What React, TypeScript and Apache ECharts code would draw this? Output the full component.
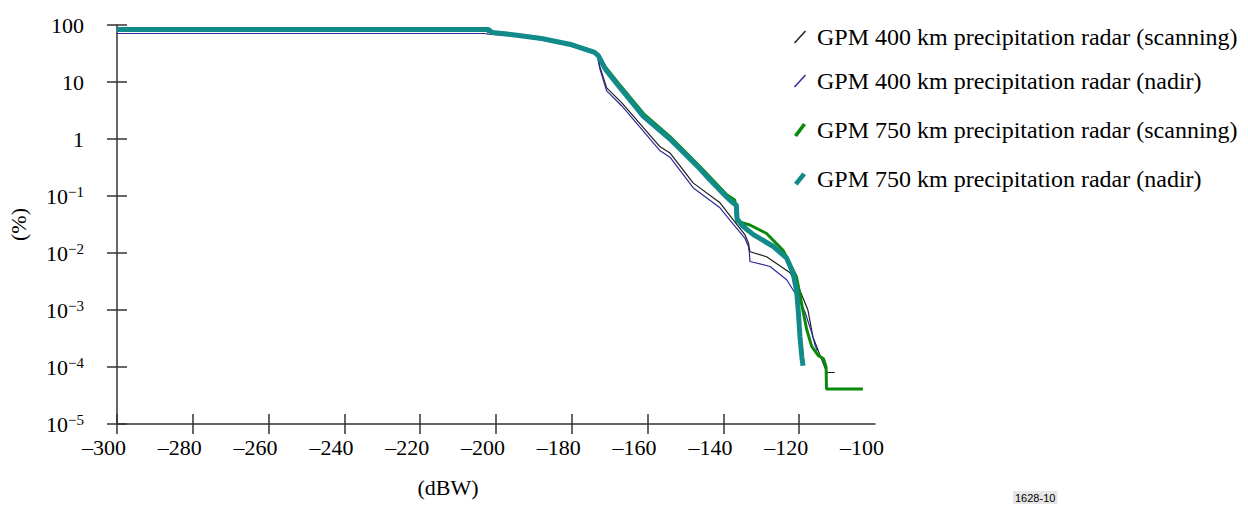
import React, { useEffect, useRef } from "react";
import * as echarts from "echarts";

const xTicks = [-300, -280, -260, -240, -220, -200, -180, -160, -140, -120, -100];

const seriesNames = [
  "GPM 400 km precipitation radar (scanning)",
  "GPM 400 km precipitation radar (nadir)",
  "GPM 750 km precipitation radar (scanning)",
  "GPM 750 km precipitation radar (nadir)",
];

const gpm400Scanning: [number, number][] = [
  [-300, 80], [-203, 80], [-202, 74], [-195, 66], [-188, 57], [-180, 45], [-174, 33], [-173, 28],
  [-172.6, 18.6], [-170.8, 7.9], [-166.8, 4.3], [-156.7, 0.73], [-154.1, 0.57], [-148, 0.17],
  [-140.9, 0.076], [-139.1, 0.053], [-134.3, 0.0207], [-133.4, 0.015], [-133.0, 0.0105],
  [-128.6, 0.0086], [-122.4, 0.0045], [-119.8, 0.0022], [-117.7, 0.001], [-116.4, 0.00034],
  [-114.5, 0.00016], [-112.7, 0.00008], [-110.6, 0.00008],
];

const gpm400Nadir: [number, number][] = [
  [-300, 71], [-203, 71], [-202, 69], [-195, 64], [-188, 55], [-180, 44], [-174, 32], [-173.2, 27],
  [-172.6, 17], [-170.8, 7.0], [-166.8, 3.8], [-156.7, 0.62], [-154.1, 0.48], [-148, 0.14],
  [-140.9, 0.062], [-139.1, 0.044], [-134.3, 0.018], [-133.4, 0.013], [-133.1, 0.0095],
  [-133.0, 0.0071], [-127.7, 0.0058], [-123.3, 0.0034], [-120.7, 0.0018], [-118.5, 0.00093],
  [-116.7, 0.0004], [-115.8, 0.00024], [-115.2, 0.00019],
];

const gpm750Scanning: [number, number][] = [
  [-300, 83], [-202, 83], [-201, 75], [-195, 67], [-188, 58], [-180, 46], [-174, 34], [-173, 30],
  [-171.2, 18.6], [-167.7, 9.5], [-161.1, 2.8], [-154.1, 1.1], [-146.2, 0.33], [-139.1, 0.105],
  [-137, 0.085], [-136.6, 0.045], [-136.5, 0.036], [-133.0, 0.031], [-128.6, 0.022],
  [-124.2, 0.011], [-120.7, 0.0038], [-118.9, 0.00089], [-118.0, 0.00045], [-116.7, 0.00023],
  [-115.0, 0.00016], [-113.6, 0.00014], [-112.9, 0.0001], [-112.8, 0.000041], [-103.2, 0.000041],
];

const gpm750Nadir: [number, number][] = [
  [-300, 83], [-202, 83], [-201, 74], [-195, 67], [-188, 58], [-180, 45], [-174, 33], [-173, 29],
  [-171.2, 17], [-167.7, 8.6], [-161.1, 2.5], [-154.1, 1.0], [-146.2, 0.3], [-143.5, 0.19],
  [-139.1, 0.095], [-137.4, 0.075], [-136.6, 0.07], [-136.4, 0.04], [-135, 0.03], [-132.1, 0.021],
  [-126.8, 0.013], [-123.3, 0.0081], [-121.6, 0.0044], [-120.7, 0.0022], [-120.2, 0.00089],
  [-119.8, 0.00034], [-119.3, 0.00015], [-119, 0.000105],
];

const colors = ["#1e1e1e", "#2b2b9c", "#0a8a0a", "#138a8a"];
const widths = [1.2, 1.2, 3, 5];
const legendIcons = [
  "path://M0,11 L10,0 L11,1 L1,12 Z",
  "path://M0,11 L10,0 L11,1 L1,12 Z",
  "path://M0,12 L9,0 L12,2 L3,14 Z",
  "path://M0,11 L9,0 L13,3 L4,14 Z",
];
const legendTops = [24, 68, 117, 166];

const FONT = "Liberation Serif";

function fmtX(v: number) {
  return v < 0 ? "\u2013" + String(-v) : String(v);
}

function fmtY(v: number) {
  const e = Math.round(Math.log10(v));
  if (e >= 0) return String(Math.round(Math.pow(10, e)));
  return "{b|10}{s|\u2212" + String(-e) + "}";
}

export default function App() {
  const ref = useRef<HTMLDivElement>(null);
  useEffect(() => {
    document.body.style.margin = "0";
    if (!ref.current) return;
    const chart = echarts.init(ref.current, null, { renderer: "svg" });
    const allData = [gpm400Scanning, gpm400Nadir, gpm750Scanning, gpm750Nadir];
    const axisLine = { show: true, lineStyle: { color: "#333", width: 1.5 } };
    const option: any = {
      animation: false,
      backgroundColor: "#fff",
      grid: { left: 117, right: 373, top: 25, bottom: 83, containLabel: false, outerBoundsMode: "none" },
      xAxis: [
        {
          type: "value",
          min: -300,
          max: -100,
          interval: 20,
          axisLine,
          axisTick: {
            show: true,
            length: 10,
            lineStyle: { color: "#333", width: 1.5 },
            customValues: xTicks.slice(0, -1),
          },
          axisLabel: {
            fontFamily: FONT,
            fontSize: 22,
            color: "#000",
            margin: 12,
            padding: [0, 26, 0, 0],
            formatter: fmtX,
            customValues: xTicks,
          },
          splitLine: { show: false },
          name: "(dBW)",
          nameLocation: "middle",
          nameGap: 52,
          nameTextStyle: { fontFamily: FONT, fontSize: 22, color: "#000", padding: [0, 96, 0, 0] },
        },
        {
          type: "value",
          min: -300,
          max: -100,
          interval: 20,
          position: "bottom",
          axisLine: { show: false },
          axisTick: {
            show: true,
            inside: true,
            length: 10,
            lineStyle: { color: "#333", width: 1.5 },
            customValues: xTicks.slice(0, -1),
          },
          axisLabel: { show: false },
          splitLine: { show: false },
        },
      ],
      yAxis: [
        {
          type: "log",
          logBase: 10,
          min: 0.00001,
          max: 100,
          splitNumber: 7,
          axisLine,
          axisTick: { show: true, length: 10, lineStyle: { color: "#333", width: 1.5 } },
          axisLabel: {
            fontFamily: FONT,
            fontSize: 22,
            color: "#000",
            margin: 33,
            formatter: fmtY,
            rich: {
              b: { fontFamily: FONT, fontSize: 22, color: "#000", lineHeight: 24 },
              s: { fontFamily: FONT, fontSize: 15, color: "#000", lineHeight: 24, verticalAlign: "top", padding: [0, 0, 10, 0] },
            },
          },
          splitLine: { show: false },
          name: "(%)",
          nameLocation: "middle",
          nameGap: 88,
          nameRotate: 90,
          nameTextStyle: { fontFamily: FONT, fontSize: 22, color: "#000" },
        },
        {
          type: "log",
          logBase: 10,
          min: 0.00001,
          max: 100,
          splitNumber: 7,
          position: "left",
          offset: 0,
          axisLine: { show: false },
          axisTick: { show: true, inside: true, length: 10, lineStyle: { color: "#333", width: 1.5 } },
          axisLabel: { show: false },
          splitLine: { show: false },
        },
      ],
      legend: seriesNames.map((name, i) => ({
        data: [{ name, icon: legendIcons[i] }],
        left: 794,
        top: legendTops[i],
        orient: "vertical",
        padding: 0,
        itemWidth: 12,
        itemHeight: 14,
        selectedMode: false,
        itemStyle: { borderWidth: 0 },
        textStyle: { fontFamily: FONT, fontSize: 24, color: "#000", lineHeight: 26, padding: [0, 0, 0, 6] },
      })),
      series: seriesNames.map((name, i) => ({
        name,
        type: "line",
        xAxisIndex: 0,
        yAxisIndex: 0,
        data: allData[i],
        showSymbol: false,
        symbol: "none",
        color: colors[i],
        lineStyle: { color: colors[i], width: widths[i] },
        z: 2 + i,
      })),
      graphic: [
        {
          type: "text",
          left: 1013,
          top: 491,
          style: {
            text: "1628-10",
            font: "11px Arial",
            fill: "#000",
            backgroundColor: "#e6e6e6",
            padding: [1, 2, 1, 2],
          },
        },
      ],
    };
    chart.setOption(option);
    return () => chart.dispose();
  }, []);
  return <div ref={ref} style={{ width: 1248, height: 507 }} />;
}
